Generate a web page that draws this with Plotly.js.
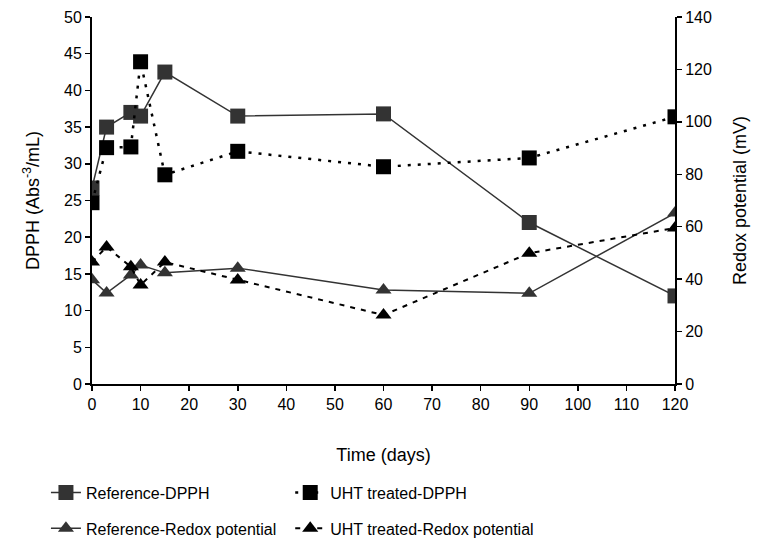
<!DOCTYPE html>
<html><head><meta charset="utf-8">
<script src="https://cdn.plot.ly/plotly-3.0.1.min.js"></script>
<style>body{margin:0;background:#fff}#chart{width:771px;height:548px}</style>
</head><body><div id="chart"></div>
<script>
const days = [0, 3, 8, 10, 15, 30, 60, 90, 120];
const refDPPH = [26.7, 35.0, 37.0, 36.5, 42.5, 36.5, 36.8, 22.0, 12.0];
const uhtDPPH = [24.7, 32.2, 32.3, 43.9, 28.5, 31.7, 29.6, 30.8, 36.4];
const refRedox = [39.8, 34.7, 41.6, 45.4, 42.4, 44.2, 35.9, 34.6, 65.2];
const uhtRedox = [46.5, 52.3, 44.7, 37.8, 46.5, 39.7, 26.3, 49.9, 59.5];
const xTicks = [0,10,20,30,40,50,60,70,80,90,100,110,120];

const gray = '#333333';
const traces = [
  {x: days, y: refDPPH, name: 'Reference-DPPH', mode: 'lines+markers', legend: 'legend', legendgroup: 'a',
   line: {color: gray, width: 1.5}, marker: {symbol: 'square', size: 15, color: gray}},
  {x: days, y: refRedox, name: 'Reference-Redox potential', yaxis: 'y2', mode: 'lines+markers', legend: 'legend', legendgroup: 'b',
   line: {color: gray, width: 1.5}, marker: {symbol: 'triangle-up', size: 14, color: gray}},
  {x: days, y: uhtDPPH, name: 'UHT treated-DPPH', mode: 'lines+markers', legend: 'legend2', legendgroup: 'c',
   line: {color: '#000', width: 2.5, dash: '3px,7px'}, marker: {symbol: 'square', size: 15, color: '#000'}},
  {x: days, y: uhtRedox, name: 'UHT treated-Redox potential', yaxis: 'y2', mode: 'lines+markers', legend: 'legend2', legendgroup: 'd',
   line: {color: '#000', width: 2, dash: '5px,6px'}, marker: {symbol: 'triangle-up', size: 14, color: '#000'}}
];

const fontFam = 'Liberation Sans, Arial, sans-serif';
const layout = {
  width: 771, height: 548,
  margin: {l: 92, r: 96, t: 17, b: 164},
  paper_bgcolor: '#fff', plot_bgcolor: '#fff',
  font: {family: fontFam, size: 16, color: '#000'},
  showlegend: true,
  xaxis: {range: [0, 120], tickvals: xTicks, ticktext: xTicks.map(String), showgrid: false, zeroline: false, automargin: false,
    showline: true, linecolor: '#000', linewidth: 2, ticks: 'outside', ticklen: 5, tickcolor: '#000', tickwidth: 1.5,
    title: {text: 'Time (days)', font: {size: 18}, standoff: 36}},
  yaxis: {range: [0, 50], dtick: 5, showgrid: false, zeroline: false, automargin: false,
    showline: true, linecolor: '#000', linewidth: 2, ticks: 'outside', ticklen: 5, tickcolor: '#000', tickwidth: 1.5,
    title: {text: 'DPPH (Abs<sup>-3</sup>/mL)', font: {size: 18}, standoff: 20}},
  yaxis2: {range: [0, 140], dtick: 20, overlaying: 'y', side: 'right', showgrid: false, zeroline: false, automargin: false,
    showline: true, linecolor: '#000', linewidth: 2, ticks: 'outside', ticklen: 5, tickcolor: '#000', tickwidth: 1.5,
    title: {text: 'Redox potential (mV)', font: {size: 18}, standoff: 22}},
  legend: {x: -0.079, xref: 'paper', y: 0.132, yref: 'container', xanchor: 'left', yanchor: 'top',
    orientation: 'v', tracegroupgap: 12, font: {size: 16}, bgcolor: 'rgba(0,0,0,0)'},
  legend2: {x: 0.34, xref: 'paper', y: 0.132, yref: 'container', xanchor: 'left', yanchor: 'top',
    orientation: 'v', tracegroupgap: 12, font: {size: 16}, bgcolor: 'rgba(0,0,0,0)'}
};
Plotly.newPlot('chart', traces, layout, {displayModeBar: false, staticPlot: true});
</script></body></html>
